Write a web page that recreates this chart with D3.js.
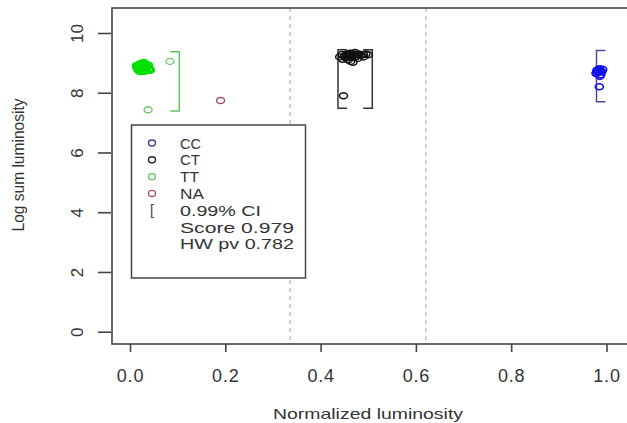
<!DOCTYPE html>
<html><head><meta charset="utf-8">
<script src="https://cdn.jsdelivr.net/npm/d3@7"></script>
<style>body{margin:0;background:#fff}svg{display:block}text{font-family:"Liberation Sans",Arial,sans-serif}</style>
</head><body><svg id="c" width="627" height="423"></svg>
<script>
// ---- data ----
const xTicks = [0, 0.2, 0.4, 0.6, 0.8, 1.0];
const yTicks = [0, 2, 4, 6, 8, 10];
const xTickLabels = ["0.0", "0.2", "0.4", "0.6", "0.8", "1.0"];
const yTickLabels = ["0", "2", "4", "6", "8", "10"];
const dividers = [0.336, 0.621];

const pointsTT = [[0.015,8.85],[0.02,8.92],[0.025,8.8],[0.03,8.94],[0.018,8.76],[0.028,8.72],[0.035,8.86],
  [0.04,8.8],[0.022,8.97],[0.032,8.83],[0.014,8.9],[0.042,8.76],[0.038,8.92],[0.026,8.87],[0.021,8.72],
  [0.017,8.82],[0.033,8.75],[0.029,9.0],[0.084,9.05],[0.038,7.43]];
const pointsCT = [[0.44,9.2],[0.445,9.28],[0.45,9.22],[0.455,9.3],[0.46,9.25],[0.465,9.18],[0.47,9.27],
  [0.475,9.22],[0.48,9.3],[0.485,9.25],[0.49,9.28],[0.495,9.3],[0.5,9.27],[0.458,9.1],[0.468,9.02],
  [0.478,9.15],[0.452,9.18],[0.462,9.32],[0.472,9.35],[0.446,9.12],[0.49,9.2],[0.463,9.05],
  [0.457,9.24],[0.467,9.26],[0.473,9.2],[0.459,9.28],[0.469,9.3],[0.476,9.28],[0.462,9.2],[0.454,9.26],
  [0.448,7.9]];
const pointsCC = [[0.98,8.75],[0.985,8.8],[0.99,8.7],[0.978,8.65],[0.988,8.6],[0.983,8.72],[0.992,8.78],
  [0.986,8.55],[0.981,8.68],[0.987,8.74],[0.985,8.2]];
const pointsNA = [[0.19,7.74]];

// confidence brackets: x position, lower, upper, side ("L" = '[' , "R" = ']')
const ciTT = [[0.1035, 7.39, 9.37, "R"]];
const ciCT = [[0.4365, 7.48, 9.44, "L"], [0.5085, 7.48, 9.44, "R"]];
const ciCC = [[0.979, 7.70, 9.41, "L"]];

const legendLabels = ["CC", "CT", "TT", "NA", "0.99% CI", "Score 0.979", "HW pv 0.782"];
const xTitle = "Normalized luminosity";
const yTitle = "Log sum luminosity";

// ---- drawing ----
const svg = d3.select("#c");
const x = d3.scaleLinear().domain([0, 1]).range([130, 606.5]);
const y = d3.scaleLinear().domain([0, 10]).range([331.7, 33]);
const L = 112, T = 8, B = 344, R = 660;
const axisCol = "#444";

// dashed dividers
svg.selectAll("line.div").data(dividers).join("line")
  .attr("x1", d => x(d)).attr("x2", d => x(d)).attr("y1", T).attr("y2", B)
  .attr("stroke", "#b8b8b8").attr("stroke-width", 1.3).attr("stroke-dasharray", "4,4");

// box
svg.append("rect").attr("x", L).attr("y", T).attr("width", R - L).attr("height", B - T)
  .attr("fill", "none").attr("stroke", axisCol).attr("stroke-width", 1.6);

// y axis
const ya = svg.append("g").attr("transform", `translate(${L - 1},0)`)
  .call(d3.axisLeft(y).tickValues(yTicks).tickSize(13).tickFormat((d, i) => yTickLabels[i]));
ya.select(".domain").remove();
ya.selectAll(".tick line").attr("stroke", axisCol).attr("stroke-width", 1.6);
ya.selectAll(".tick text").attr("x", 0).attr("dy", 0).attr("text-anchor", "middle")
  .attr("transform", `translate(${83 - L + 1},0) rotate(-90)`)
  .attr("font-size", 17).attr("fill", "#333");

// x axis
const xa = svg.append("g").attr("transform", `translate(0,${B})`)
  .call(d3.axisBottom(x).tickValues(xTicks).tickSize(8).tickFormat((d, i) => xTickLabels[i]));
xa.select(".domain").remove();
xa.selectAll(".tick line").attr("stroke", axisCol).attr("stroke-width", 1.6);
xa.selectAll(".tick text").attr("y", 38).attr("dy", 0)
  .attr("font-size", 18).attr("fill", "#333")
  .attr("style", "letter-spacing:0.8px");

// titles
svg.append("text").attr("x", 368).attr("y", 419).attr("text-anchor", "middle")
  .attr("font-size", 15).attr("fill", "#333").attr("textLength", 190).attr("lengthAdjust", "spacingAndGlyphs")
  .text(xTitle);
svg.append("text").attr("transform", "translate(24,165) rotate(-90)").attr("text-anchor", "middle")
  .attr("font-size", 16).attr("fill", "#333").attr("textLength", 133).attr("lengthAdjust", "spacingAndGlyphs")
  .text(yTitle);

// brackets
function brackets(data, col) {
  const arm = 9;
  svg.append("g").selectAll("path").data(data).join("path")
    .attr("d", d => {
      const px = x(d[0]), y0 = y(d[1]), y1 = y(d[2]);
      const a = d[3] === "L" ? arm : -arm;
      return `M${px + a},${y1}H${px}V${y0}H${px + a}`;
    })
    .attr("fill", "none").attr("stroke", col).attr("stroke-width", 1.5);
}
brackets(ciTT, "#5ec45e");
brackets(ciCT, "#333");
brackets(ciCC, "#4a4aa0");

// points
function pts(data, col, sw) {
  svg.append("g").selectAll("ellipse").data(data).join("ellipse")
    .attr("cx", d => x(d[0])).attr("cy", d => y(d[1])).attr("rx", 4).attr("ry", 3)
    .attr("fill", "none").attr("stroke", col).attr("stroke-width", sw);
}
pts(pointsTT.slice(0, pointsTT.length - 2), "#00e000", 2.2);
pts(pointsTT.slice(pointsTT.length - 2), "#6cc46c", 1.3);
pts(pointsCT, "#111", 1.5);
pts(pointsCC, "#1010ee", 1.7);
pts(pointsNA, "#a0505a", 1.4);

// legend
const lg = svg.append("g");
lg.append("rect").attr("x", 131.5).attr("y", 125).attr("width", 174).attr("height", 153)
  .attr("fill", "#fff").attr("stroke", axisCol).attr("stroke-width", 1.5);
const legCols = ["#3a3a8a", "#222", "#5ec45e", "#b05060"];
const rowY = i => 143 + i * 16.8;
lg.selectAll("ellipse").data(legCols).join("ellipse")
  .attr("cx", 152).attr("cy", (d, i) => rowY(i)).attr("rx", 3.5).attr("ry", 3)
  .attr("fill", "none").attr("stroke", d => d).attr("stroke-width", 1.4);
lg.append("text").attr("x", 152).attr("y", rowY(4) + 5).attr("text-anchor", "middle")
  .attr("font-size", 14).attr("fill", "#444").text("[");
lg.selectAll("text.lab").data(legendLabels).join("text").attr("class", "lab")
  .attr("x", 180).attr("y", (d, i) => rowY(i) + 5.5)
  .attr("font-size", 15).attr("fill", "#333")
  .attr("textLength", d => ({"CC":21,"CT":20,"TT":19,"NA":24,"0.99% CI":81,"Score 0.979":114,"HW pv 0.782":114})[d])
  .attr("lengthAdjust", "spacingAndGlyphs")
  .text(d => d);
</script></body></html>
